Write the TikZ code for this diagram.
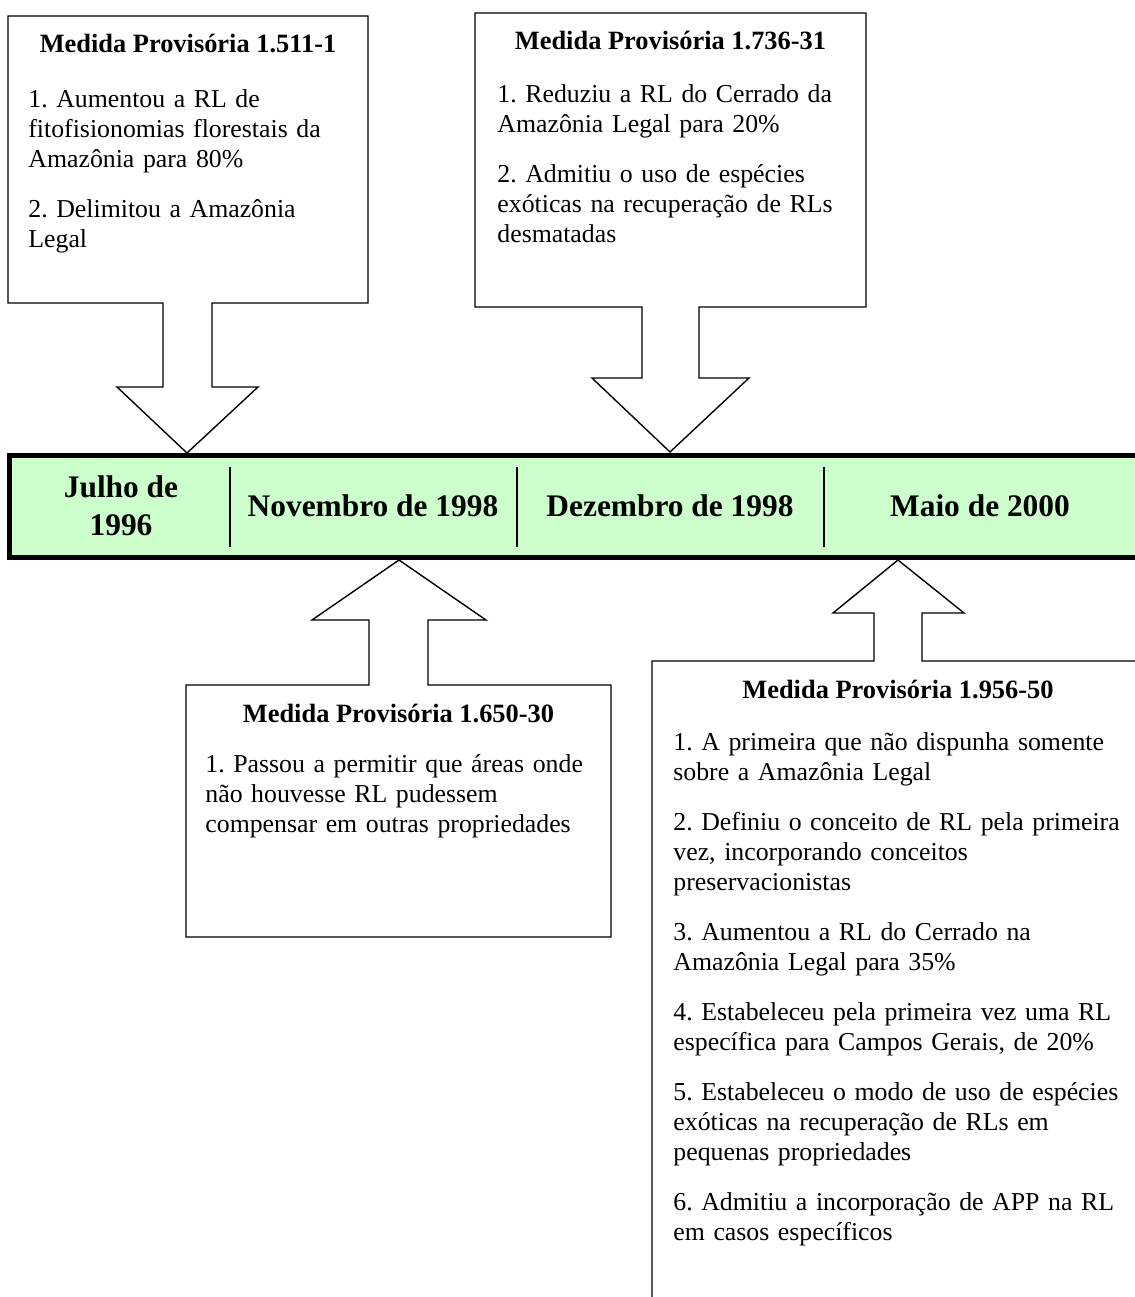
\documentclass[tikz,border=0pt]{standalone}
\usepackage{fontspec}
\setmainfont{Liberation Serif}
\definecolor{bandgreen}{HTML}{CCFFCC}

\begin{document}
\frenchspacing
\begin{tikzpicture}[
  x=0.5pt,y=-0.5pt,
  callout/.style={draw,line width=0.7pt,fill=white,line join=miter},
  band/.style={draw,line width=2.5pt,fill=bandgreen},
  sep/.style={line width=1pt},
  head/.style={anchor=base,inner sep=0pt,font=\fontsize{13.2}{15}\selectfont\bfseries},
  body/.style={anchor=base west,inner sep=0pt,text width=300pt,align=left,font=\fontsize{12.9}{15}\selectfont},
  date/.style={align=center,inner sep=0pt,font=\fontsize{15.7}{19}\selectfont\bfseries},
]
  \useasboundingbox (0,0) rectangle (1135,1297);
  \clip (0,0) rectangle (1135,1297);

  % callouts above the band
  \draw[callout] (8,16) -- (368,16) -- (368,303) -- (212,303) -- (212,387) -- (258,387)
    -- (187,453) -- (117,387) -- (163,387) -- (163,303) -- (8,303) -- cycle;
  \draw[callout] (475,13) -- (866,13) -- (866,307) -- (699,307) -- (699,378) -- (749,378)
    -- (670,452) -- (592,378) -- (642,378) -- (642,307) -- (475,307) -- cycle;

  % callouts below the band
  \draw[callout] (186,685) -- (369,685) -- (369,620) -- (312,620) -- (399,560) -- (486,620)
    -- (428,620) -- (428,685) -- (611,685) -- (611,937) -- (186,937) -- cycle;
  \draw[callout] (652,661) -- (874,661) -- (874,613) -- (833,613) -- (898,560) -- (964,613)
    -- (922,613) -- (922,661) -- (1144,661) -- (1144,1310) -- (652,1310) -- cycle;

  % timeline
  \draw[band] (9.5,455) rectangle (1145,557);
  \foreach \sx in {229.5,517,824}
    \draw[sep] (\sx,467) -- (\sx,547);

  \node[date] (jul96) at (121,506) {Julho de\\1996};
  \node[date] (nov98) at (373,506) {Novembro de 1998};
  \node[date] (dez98) at (670,506) {Dezembro de 1998};
  \node[date] (mai00) at (980,506) {Maio de 2000};

  % texts
  \node[head] (mp1head) at (188,52) {Medida Provisória 1.511-1};
  \node[body] (mp1body) at (28,107) {1. Aumentou a RL de\\fitofisionomias florestais da\\Amazônia para 80\%\\[10pt]2. Delimitou a Amazônia\\Legal};

  \node[head] (mp2head) at (670.5,49) {Medida Provisória 1.736-31};
  \node[body] (mp2body) at (497,102) {1. Reduziu a RL do Cerrado da\\Amazônia Legal para 20\%\\[10pt]2. Admitiu o uso de espécies\\exóticas na recuperação de RLs\\desmatadas};

  \node[head] (mp3head) at (398.5,722) {Medida Provisória 1.650-30};
  \node[body] (mp3body) at (205,772) {1. Passou a permitir que áreas onde\\não houvesse RL pudessem\\compensar em outras propriedades};

  \node[head] (mp4head) at (898,698) {Medida Provisória 1.956-50};
  \node[body] (mp4body) at (673,750) {1. A primeira que não dispunha somente\\sobre a Amazônia Legal\\[10pt]2. Definiu o conceito de RL pela primeira\\vez, incorporando conceitos\\preservacionistas\\[10pt]3. Aumentou a RL do Cerrado na\\Amazônia Legal para 35\%\\[10pt]4. Estabeleceu pela primeira vez uma RL\\específica para Campos Gerais, de 20\%\\[10pt]5. Estabeleceu o modo de uso de espécies\\exóticas na recuperação de RLs em\\pequenas propriedades\\[10pt]6. Admitiu a incorporação de APP na RL\\em casos específicos};
\end{tikzpicture}
\end{document}
